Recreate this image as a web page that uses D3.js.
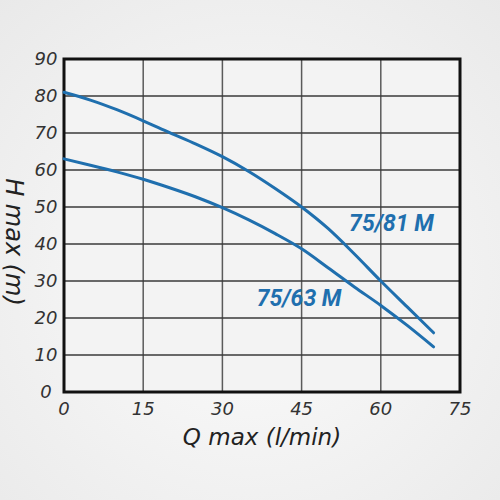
<!DOCTYPE html>
<html>
<head>
<meta charset="utf-8">
<script src="https://cdn.jsdelivr.net/npm/d3@7"></script>
<style>
  html, body { margin: 0; padding: 0; }
  body { width: 500px; height: 500px; overflow: hidden; }
</style>
</head>
<body>
<svg width="500" height="500"></svg>
<script>
// dati
var portata = [0, 5, 10, 15, 20, 25, 30, 35, 40, 45, 50, 55, 60, 65, 70];
var prevalenza_81 = [81, 78.9, 76.3, 73.3, 70.1, 67, 63.6, 59.6, 55, 50, 44.2, 37.3, 30, 23, 16];
var prevalenza_63 = [63, 61.3, 59.5, 57.5, 55.2, 52.7, 49.8, 46.5, 42.8, 38.7, 33.6, 28.4, 23.4, 18, 12.2];
var nomi = ["75/81 M", "75/63 M"];
var etichette_x = [0, 15, 30, 45, 60, 75];
var etichette_y = [0, 10, 20, 30, 40, 50, 60, 70, 80, 90];
var titolo_x = "Q max (l/min)";
var titolo_y = "H max (m)";

var blu = "#1f6fae";
var font_assi = "'DejaVu Sans', sans-serif";

var svg = d3.select("svg"),
  margin = {top: 59, left: 64, right: 40, bottom: 108},
  width = 500 - margin.left - margin.right,
  height = 500 - margin.top - margin.bottom;

// sfondo grigio sfumato
var defs = svg.append("defs");
var grad = defs.append("radialGradient").attr("id", "sfondo")
  .attr("cx", "50%").attr("cy", "55%").attr("r", "75%");
grad.append("stop").attr("offset", "0%").attr("stop-color", "#fcfcfc");
grad.append("stop").attr("offset", "100%").attr("stop-color", "#e9e9e9");
svg.append("rect").attr("width", 500).attr("height", 500).attr("fill", "url(#sfondo)");

var g = svg.append("g").attr("transform", "translate(" + margin.left + "," + margin.top + ")");

var x = d3.scaleLinear().domain([0, 75]).range([0, width]);
var y = d3.scaleLinear().domain([0, 90]).range([height, 0]);

g.append("rect").attr("width", width).attr("height", height).attr("fill", "#f3f3f3");

// griglia
g.selectAll(".vx").data(etichette_x.slice(1, -1)).enter().append("line")
  .attr("x1", function(d) { return x(d); })
  .attr("x2", function(d) { return x(d); })
  .attr("y1", 0).attr("y2", height)
  .attr("stroke", "#5a5a5a").attr("stroke-width", 1.5);
g.selectAll(".hy").data(etichette_y.slice(1, -1)).enter().append("line")
  .attr("y1", function(d) { return y(d); })
  .attr("y2", function(d) { return y(d); })
  .attr("x1", 0).attr("x2", width)
  .attr("stroke", "#3a3a3a").attr("stroke-width", 1.5);

// etichette assi
g.selectAll(".tx").data(etichette_x).enter().append("text")
  .attr("x", function(d) { return x(d); })
  .attr("y", height + 23)
  .attr("text-anchor", "middle")
  .attr("font-family", font_assi)
  .attr("font-style", "italic")
  .attr("font-size", 18)
  .attr("fill", "#333")
  .text(function(d) { return d; });
g.selectAll(".ty").data(etichette_y).enter().append("text")
  .attr("x", -18)
  .attr("y", function(d) { return y(d); })
  .attr("dy", "0.36em")
  .attr("text-anchor", "middle")
  .attr("font-family", font_assi)
  .attr("font-style", "italic")
  .attr("font-size", 18)
  .attr("fill", "#333")
  .text(function(d) { return d; });

svg.append("text")
  .attr("x", margin.left + width / 2)
  .attr("y", 445)
  .attr("text-anchor", "middle")
  .attr("font-family", font_assi)
  .attr("font-style", "italic")
  .attr("font-size", 23)
  .attr("fill", "#222")
  .text(titolo_x);
svg.append("text")
  .attr("transform", "translate(6,242) rotate(90)")
  .attr("text-anchor", "middle")
  .attr("font-family", font_assi)
  .attr("font-style", "italic")
  .attr("font-size", 24)
  .attr("fill", "#222")
  .text(titolo_y);

// bordo
g.append("rect").attr("width", width).attr("height", height)
  .attr("fill", "none").attr("stroke", "#111").attr("stroke-width", 3);

// curve
var linea = d3.line()
  .x(function(d) { return x(d[0]); })
  .y(function(d) { return y(d[1]); })
  .curve(d3.curveMonotoneX);

[prevalenza_81, prevalenza_63].forEach(function(serie) {
  g.append("path")
    .datum(d3.zip(portata, serie))
    .attr("d", linea)
    .attr("fill", "none")
    .attr("stroke", blu)
    .attr("stroke-width", 3)
    .attr("stroke-linecap", "round");
});

// nomi modelli
var pos_nomi = [[54, 43.5], [36.5, 23.3]];
nomi.forEach(function(n, i) {
  g.append("text")
    .attr("x", x(pos_nomi[i][0]))
    .attr("y", y(pos_nomi[i][1]))
    .attr("font-family", "Roboto, sans-serif")
    .attr("font-style", "italic")
    .attr("font-weight", "bold")
    .attr("font-size", 23)
    .attr("fill", blu)
    .text(n);
});
</script>
</body>
</html>
